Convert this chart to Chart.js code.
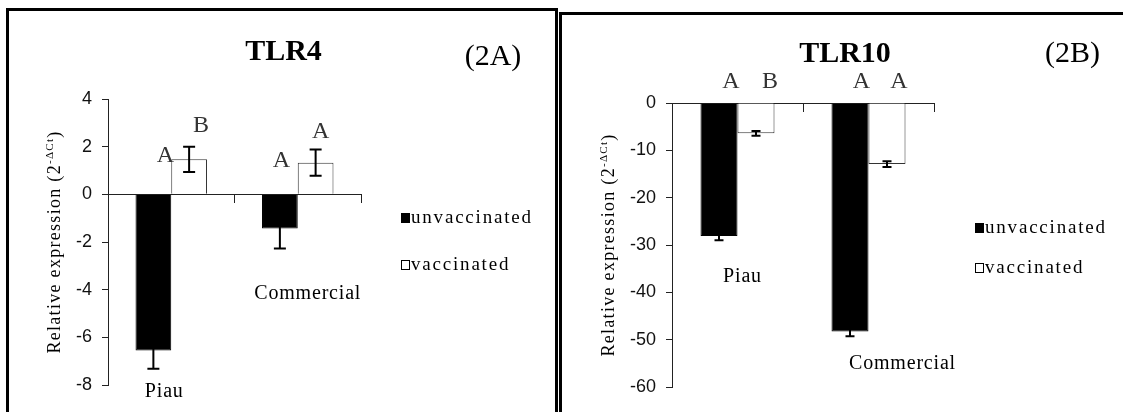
<!DOCTYPE html>
<html>
<head>
<meta charset="utf-8">
<script src="https://cdn.jsdelivr.net/npm/chart.js@4.4.1/dist/chart.umd.min.js"></script>
<style>
  html, body { margin: 0; padding: 0; background: #fff; }
  #wrap { position: relative; width: 1123px; height: 412px; overflow: hidden; }
  canvas { position: absolute; top: 0; }
  .box { position: absolute; box-sizing: border-box; border: 3px solid #000; border-bottom: none; }
</style>
</head>
<body>
<div id="wrap">
  <canvas id="tlr4" width="558" height="412" style="left:0"></canvas>
  <canvas id="tlr10" width="565" height="412" style="left:558px"></canvas>
  <div class="box" style="left:6px;top:8px;width:552px;height:420px"></div>
  <div class="box" style="left:559px;top:12px;width:580px;height:420px;border-right:none"></div>
</div>
<script>
// data
const categories = ["Piau", "Commercial"];
const seriesNames = ["unvaccinated", "vaccinated"];

const tlr4Unvacc = [-6.55, -1.43];
const tlr4UnvaccErr = [0.77, 0.84];
const tlr4Vacc = [1.47, 1.33];
const tlr4VaccErr = [0.53, 0.55];
const tlr4UnvaccLetters = ["A", "A"];
const tlr4VaccLetters = ["B", "A"];

const tlr10Unvacc = [-28.1, -48.3];
const tlr10UnvaccErr = [0.9, 1.0];
const tlr10Vacc = [-6.4, -12.9];
const tlr10VaccErr = [0.5, 0.6];
const tlr10UnvaccLetters = ["A", "A"];
const tlr10VaccLetters = ["B", "A"];

const tlr4Ticks = {min: -8, max: 4, step: 2};
const tlr10Ticks = {min: -60, max: 0, step: 10};

// layout of the extra text for each panel
const layoutA = {
  title: "TLR4", titleX: 283.5, titleY: 60,
  tag: "(2A)", tagX: 493, tagY: 65,
  yTitleOffset: 48,
  letterAt: [[1.35, 1.14], [2.61, 2.36]],
  letterDx: [[12, 1.5], [12, 5]],
  labelAt: [-8.5, -4.4], labelDx: [-7, 10],
  legendDx: 40, legendTop: 213, legendGap: 47,
  cap: 6, tickSize: 18
};
const layoutB = {
  title: "TLR10", titleX: 287, titleY: 62,
  tag: "(2B)", tagX: 514.5, tagY: 62,
  yTitleOffset: 58,
  letterAt: [[3.2, 3.2], [3.2, 3.2]],
  letterDx: [[12, 11.5], [14, 12]],
  labelAt: [-37.8, -56.2], labelDx: [5, 34],
  legendDx: 41, legendTop: 223, legendGap: 40,
  cap: 4.5, tickSize: 18
};

const serif = '"Liberation Serif", "Times New Roman", serif';

const panelText = {
  id: "panelText",
  afterDatasetsDraw(chart, args, opts) {
    const ctx = chart.ctx;
    const y = chart.scales.y;
    const L = opts.layout;
    ctx.save();
    chart.data.datasets.forEach((ds, i) => {
      const meta = chart.getDatasetMeta(i);
      meta.data.forEach((bar, j) => {
        const v = ds.data[j], e = ds.errors[j];
        const yHi = y.getPixelForValue(v + e);
        const yLo = y.getPixelForValue(v - e);
        ctx.strokeStyle = "#000";
        ctx.lineWidth = 2;
        ctx.beginPath();
        ctx.moveTo(bar.x, yHi); ctx.lineTo(bar.x, yLo);
        ctx.moveTo(bar.x - L.cap, yHi); ctx.lineTo(bar.x + L.cap, yHi);
        ctx.moveTo(bar.x - L.cap, yLo); ctx.lineTo(bar.x + L.cap, yLo);
        ctx.stroke();

        ctx.font = "24px " + serif;
        ctx.fillStyle = "#333";
        ctx.textAlign = "center";
        ctx.textBaseline = "alphabetic";
        ctx.fillText(ds.letters[j], bar.x + L.letterDx[i][j], y.getPixelForValue(L.letterAt[i][j]));
      });
    });
    ctx.restore();
  },
  afterDraw(chart, args, opts) {
    const ctx = chart.ctx;
    const area = chart.chartArea;
    const x = chart.scales.x, y = chart.scales.y;
    const L = opts.layout;
    ctx.save();
    ctx.fillStyle = "#000";
    ctx.textBaseline = "alphabetic";
    ctx.textAlign = "center";

    // titles
    ctx.font = "bold 30px " + serif;
    ctx.fillText(L.title, L.titleX, L.titleY);
    ctx.font = "30px " + serif;
    ctx.fillText(L.tag, L.tagX, L.tagY);

    // category labels
    ctx.font = "20px " + serif;
    ctx.letterSpacing = "0.8px";
    chart.data.labels.forEach((lab, j) => {
      ctx.fillText(lab, x.getPixelForValue(j) + L.labelDx[j], y.getPixelForValue(L.labelAt[j]));
    });

    // legend
    ctx.textAlign = "left";
    ctx.font = "19px " + serif;
    ctx.letterSpacing = "1.8px";
    chart.data.datasets.forEach((ds, i) => {
      const sx = area.right + L.legendDx;
      const sy = L.legendTop + i * L.legendGap;
      ctx.fillStyle = ds.backgroundColor;
      ctx.fillRect(sx, sy, 9, 10);
      ctx.strokeStyle = "#000";
      ctx.lineWidth = 1;
      ctx.strokeRect(sx + 0.5, sy + 0.5, 8, 9);
      ctx.fillStyle = "#000";
      ctx.fillText(ds.label, sx + 10, sy + 10);
    });

    // y axis title with superscript
    const main = "Relative expression (2", sup = "-\u0394Ct", close = ")";
    ctx.translate(area.left - L.yTitleOffset, (area.top + area.bottom) / 2);
    ctx.rotate(-Math.PI / 2);
    ctx.letterSpacing = "1.3px";
    ctx.font = "18px " + serif;
    const w1 = ctx.measureText(main).width;
    const w3 = ctx.measureText(close).width;
    ctx.font = "11px " + serif;
    const w2 = ctx.measureText(sup).width;
    let px = -(w1 + w2 + w3) / 2;
    ctx.font = "18px " + serif;
    ctx.fillText(main, px, 0);
    px += w1;
    ctx.font = "11px " + serif;
    ctx.fillText(sup, px, -7);
    px += w2;
    ctx.font = "18px " + serif;
    ctx.fillText(close, px, 0);
    ctx.restore();
  }
};

function makeChart(id, unvacc, unvaccErr, unvaccLetters, vacc, vaccErr, vaccLetters, tk, layout, padding, yWidth) {
  const ctx = document.getElementById(id).getContext("2d");
  return new Chart(ctx, {
    type: "bar",
    data: {
      labels: categories,
      datasets: [
        {
          label: seriesNames[0],
          data: unvacc,
          errors: unvaccErr,
          letters: unvaccLetters,
          backgroundColor: "#000",
          borderColor: "#000",
          borderWidth: 1
        },
        {
          label: seriesNames[1],
          data: vacc,
          errors: vaccErr,
          letters: vaccLetters,
          backgroundColor: "#fff",
          borderColor: "#333",
          borderWidth: 1
        }
      ]
    },
    options: {
      responsive: false,
      animation: false,
      devicePixelRatio: 1,
      layout: {padding: padding},
      categoryPercentage: 0.565,
      barPercentage: 1,
      plugins: {
        legend: {display: false},
        tooltip: {enabled: false},
        panelText: {layout: layout}
      },
      scales: {
        x: {
          type: "category",
          position: {y: 0},
          offset: true,
          ticks: {display: false},
          grid: {display: true, drawOnChartArea: false, drawTicks: true, tickLength: 8, offset: true, color: "#222"},
          border: {display: true, color: "#222", width: 1}
        },
        y: {
          position: "left",
          min: tk.min,
          max: tk.max,
          ticks: {
            stepSize: tk.step,
            padding: 10,
            color: "#111",
            font: {family: '"Liberation Sans", Arial, sans-serif', size: layout.tickSize}
          },
          grid: {display: true, drawOnChartArea: false, drawTicks: true, tickLength: 6, color: "#222"},
          border: {display: true, color: "#222", width: 1},
          afterFit(scale) { scale.width = yWidth; }
        }
      }
    },
    plugins: [panelText]
  });
}

makeChart("tlr4", tlr4Unvacc, tlr4UnvaccErr, tlr4UnvaccLetters, tlr4Vacc, tlr4VaccErr, tlr4VaccLetters,
  tlr4Ticks, layoutA, {left: 68, right: 197, top: 99, bottom: 27}, 40);
makeChart("tlr10", tlr10Unvacc, tlr10UnvaccErr, tlr10UnvaccLetters, tlr10Vacc, tlr10VaccErr, tlr10VaccLetters,
  tlr10Ticks, layoutB, {left: 69, right: 189, top: 103, bottom: 25}, 45);
</script>
</body>
</html>
